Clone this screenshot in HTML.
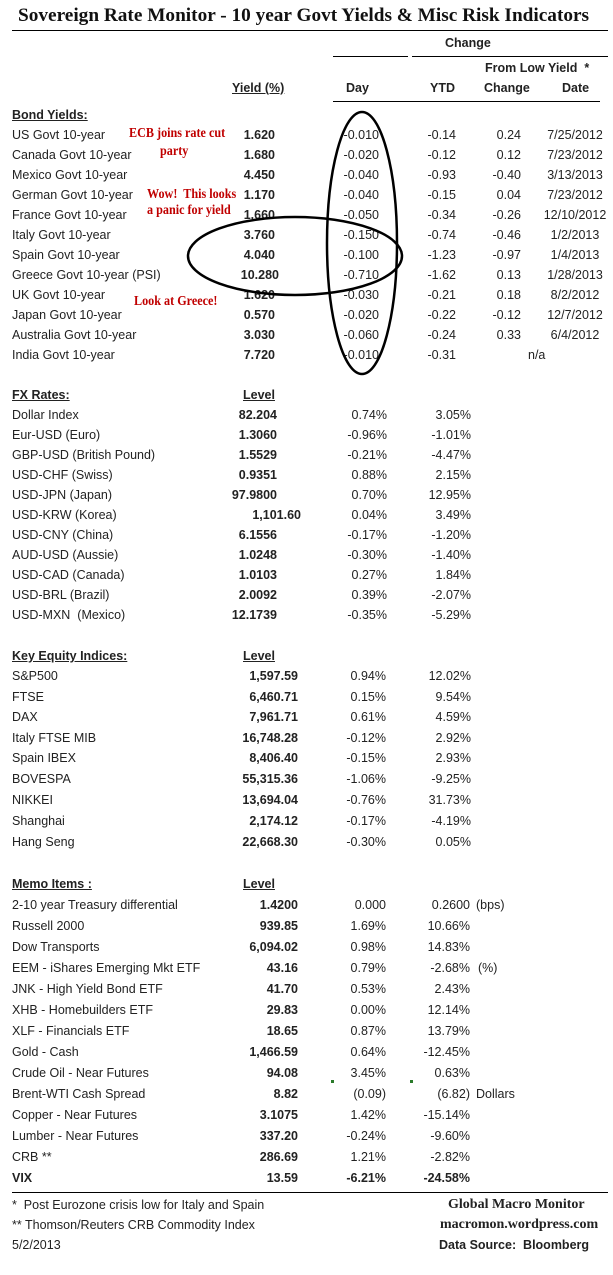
<!DOCTYPE html>
<html><head><meta charset="utf-8"><style>
*{margin:0;padding:0}
body{width:613px;height:1275px;background:#fff;position:relative;overflow:hidden;font-family:"Liberation Sans",sans-serif;font-size:12.5px;color:#222}
div{position:absolute;white-space:nowrap;line-height:16px}
.b{font-weight:bold}
.u{text-decoration:underline;font-weight:bold}
.ln{height:0;border-top:1.5px solid #000}
.red{color:#c00000;font-family:"Liberation Serif",serif;font-weight:bold;font-size:13.5px;transform:scaleX(0.9);transform-origin:left}
.ser{font-family:"Liberation Serif",serif;font-weight:bold}
</style></head><body>
<div class="ser" style="left:18px;top:6px;font-size:19.3px;line-height:20px;color:#111">Sovereign Rate Monitor - 10 year Govt Yields &amp; Misc Risk Indicators</div>
<div class="ln" style="left:12px;top:30px;width:596px"></div>
<div class="b" style="left:445px;top:35px">Change</div>
<div class="ln" style="left:333px;top:56px;width:75px;border-top-width:1px"></div>
<div class="ln" style="left:412px;top:56px;width:196px;border-top-width:1px"></div>
<div class="b" style="left:485px;top:60px">From Low Yield &nbsp;*</div>
<div class="u" style="left:232px;top:80px">Yield (%)</div>
<div class="b" style="left:346px;top:80px">Day</div>
<div class="b" style="left:430px;top:80px">YTD</div>
<div class="b" style="left:484px;top:80px">Change</div>
<div class="b" style="left:562px;top:80px">Date</div>
<div class="ln" style="left:333px;top:101px;width:267px;border-top-width:1px"></div>
<div class="u" style="left:12px;top:107px">Bond Yields:</div>

<div style="left:12px;top:127px">US Govt 10-year</div><div class="b" style="right:338px;top:127px">1.620</div><div style="right:234px;top:127px">-0.010</div><div style="right:157px;top:127px">-0.14</div><div style="right:92px;top:127px">0.24</div><div style="left:535px;width:80px;text-align:center;top:127px">7/25/2012</div>
<div style="left:12px;top:147px">Canada Govt 10-year</div><div class="b" style="right:338px;top:147px">1.680</div><div style="right:234px;top:147px">-0.020</div><div style="right:157px;top:147px">-0.12</div><div style="right:92px;top:147px">0.12</div><div style="left:535px;width:80px;text-align:center;top:147px">7/23/2012</div>
<div style="left:12px;top:167px">Mexico Govt 10-year</div><div class="b" style="right:338px;top:167px">4.450</div><div style="right:234px;top:167px">-0.040</div><div style="right:157px;top:167px">-0.93</div><div style="right:92px;top:167px">-0.40</div><div style="left:535px;width:80px;text-align:center;top:167px">3/13/2013</div>
<div style="left:12px;top:187px">German Govt 10-year</div><div class="b" style="right:338px;top:187px">1.170</div><div style="right:234px;top:187px">-0.040</div><div style="right:157px;top:187px">-0.15</div><div style="right:92px;top:187px">0.04</div><div style="left:535px;width:80px;text-align:center;top:187px">7/23/2012</div>
<div style="left:12px;top:207px">France Govt 10-year</div><div class="b" style="right:338px;top:207px">1.660</div><div style="right:234px;top:207px">-0.050</div><div style="right:157px;top:207px">-0.34</div><div style="right:92px;top:207px">-0.26</div><div style="left:535px;width:80px;text-align:center;top:207px">12/10/2012</div>
<div style="left:12px;top:227px">Italy Govt 10-year</div><div class="b" style="right:338px;top:227px">3.760</div><div style="right:234px;top:227px">-0.150</div><div style="right:157px;top:227px">-0.74</div><div style="right:92px;top:227px">-0.46</div><div style="left:535px;width:80px;text-align:center;top:227px">1/2/2013</div>
<div style="left:12px;top:247px">Spain Govt 10-year</div><div class="b" style="right:338px;top:247px">4.040</div><div style="right:234px;top:247px">-0.100</div><div style="right:157px;top:247px">-1.23</div><div style="right:92px;top:247px">-0.97</div><div style="left:535px;width:80px;text-align:center;top:247px">1/4/2013</div>
<div style="left:12px;top:267px">Greece Govt 10-year (PSI)</div><div class="b" style="right:334px;top:267px">10.280</div><div style="right:234px;top:267px">-0.710</div><div style="right:157px;top:267px">-1.62</div><div style="right:92px;top:267px">0.13</div><div style="left:535px;width:80px;text-align:center;top:267px">1/28/2013</div>
<div style="left:12px;top:287px">UK Govt 10-year</div><div class="b" style="right:338px;top:287px">1.620</div><div style="right:234px;top:287px">-0.030</div><div style="right:157px;top:287px">-0.21</div><div style="right:92px;top:287px">0.18</div><div style="left:535px;width:80px;text-align:center;top:287px">8/2/2012</div>
<div style="left:12px;top:307px">Japan Govt 10-year</div><div class="b" style="right:338px;top:307px">0.570</div><div style="right:234px;top:307px">-0.020</div><div style="right:157px;top:307px">-0.22</div><div style="right:92px;top:307px">-0.12</div><div style="left:535px;width:80px;text-align:center;top:307px">12/7/2012</div>
<div style="left:12px;top:327px">Australia Govt 10-year</div><div class="b" style="right:338px;top:327px">3.030</div><div style="right:234px;top:327px">-0.060</div><div style="right:157px;top:327px">-0.24</div><div style="right:92px;top:327px">0.33</div><div style="left:535px;width:80px;text-align:center;top:327px">6/4/2012</div>
<div style="left:12px;top:347px">India Govt 10-year</div><div class="b" style="right:338px;top:347px">7.720</div><div style="right:234px;top:347px">-0.010</div><div style="right:157px;top:347px">-0.31</div><div style="left:528px;top:347px">n/a</div>

<div class="red" style="left:129px;top:125px">ECB joins rate cut</div>
<div class="red" style="left:160px;top:143px">party</div>
<div class="red" style="left:147px;top:186px">Wow!&nbsp; This looks</div>
<div class="red" style="left:147px;top:202px">a panic for yield</div>
<div class="red" style="left:134px;top:293px">Look at Greece!</div>

<svg style="position:absolute;left:0;top:0" width="613" height="400">
<ellipse cx="362" cy="243" rx="35" ry="131" fill="none" stroke="#000" stroke-width="2.5"/>
<ellipse cx="295" cy="256" rx="107" ry="39" fill="none" stroke="#000" stroke-width="2.5"/>
</svg>

<div class="u" style="left:12px;top:387px">FX Rates:</div><div class="u" style="left:243px;top:387px">Level</div>
<div style="left:12px;top:407px">Dollar Index</div><div class="b" style="right:336px;top:407px">82.204</div><div style="right:226px;top:407px">0.74%</div><div style="right:142px;top:407px">3.05%</div>
<div style="left:12px;top:427px">Eur-USD (Euro)</div><div class="b" style="right:336px;top:427px">1.3060</div><div style="right:226px;top:427px">-0.96%</div><div style="right:142px;top:427px">-1.01%</div>
<div style="left:12px;top:447px">GBP-USD (British Pound)</div><div class="b" style="right:336px;top:447px">1.5529</div><div style="right:226px;top:447px">-0.21%</div><div style="right:142px;top:447px">-4.47%</div>
<div style="left:12px;top:467px">USD-CHF (Swiss)</div><div class="b" style="right:336px;top:467px">0.9351</div><div style="right:226px;top:467px">0.88%</div><div style="right:142px;top:467px">2.15%</div>
<div style="left:12px;top:487px">USD-JPN (Japan)</div><div class="b" style="right:336px;top:487px">97.9800</div><div style="right:226px;top:487px">0.70%</div><div style="right:142px;top:487px">12.95%</div>
<div style="left:12px;top:507px">USD-KRW (Korea)</div><div class="b" style="right:312px;top:507px">1,101.60</div><div style="right:226px;top:507px">0.04%</div><div style="right:142px;top:507px">3.49%</div>
<div style="left:12px;top:527px">USD-CNY (China)</div><div class="b" style="right:336px;top:527px">6.1556</div><div style="right:226px;top:527px">-0.17%</div><div style="right:142px;top:527px">-1.20%</div>
<div style="left:12px;top:547px">AUD-USD (Aussie)</div><div class="b" style="right:336px;top:547px">1.0248</div><div style="right:226px;top:547px">-0.30%</div><div style="right:142px;top:547px">-1.40%</div>
<div style="left:12px;top:567px">USD-CAD (Canada)</div><div class="b" style="right:336px;top:567px">1.0103</div><div style="right:226px;top:567px">0.27%</div><div style="right:142px;top:567px">1.84%</div>
<div style="left:12px;top:587px">USD-BRL (Brazil)</div><div class="b" style="right:336px;top:587px">2.0092</div><div style="right:226px;top:587px">0.39%</div><div style="right:142px;top:587px">-2.07%</div>
<div style="left:12px;top:607px">USD-MXN&nbsp; (Mexico)</div><div class="b" style="right:336px;top:607px">12.1739</div><div style="right:226px;top:607px">-0.35%</div><div style="right:142px;top:607px">-5.29%</div>

<div class="u" style="left:12px;top:648px">Key Equity Indices:</div><div class="u" style="left:243px;top:648px">Level</div>
<div style="left:12px;top:668px">S&amp;P500</div><div class="b" style="right:315px;top:668px">1,597.59</div><div style="right:227px;top:668px">0.94%</div><div style="right:142px;top:668px">12.02%</div>
<div style="left:12px;top:689px">FTSE</div><div class="b" style="right:315px;top:689px">6,460.71</div><div style="right:227px;top:689px">0.15%</div><div style="right:142px;top:689px">9.54%</div>
<div style="left:12px;top:709px">DAX</div><div class="b" style="right:315px;top:709px">7,961.71</div><div style="right:227px;top:709px">0.61%</div><div style="right:142px;top:709px">4.59%</div>
<div style="left:12px;top:730px">Italy FTSE MIB</div><div class="b" style="right:315px;top:730px">16,748.28</div><div style="right:227px;top:730px">-0.12%</div><div style="right:142px;top:730px">2.92%</div>
<div style="left:12px;top:750px">Spain IBEX</div><div class="b" style="right:315px;top:750px">8,406.40</div><div style="right:227px;top:750px">-0.15%</div><div style="right:142px;top:750px">2.93%</div>
<div style="left:12px;top:771px">BOVESPA</div><div class="b" style="right:315px;top:771px">55,315.36</div><div style="right:227px;top:771px">-1.06%</div><div style="right:142px;top:771px">-9.25%</div>
<div style="left:12px;top:792px">NIKKEI</div><div class="b" style="right:315px;top:792px">13,694.04</div><div style="right:227px;top:792px">-0.76%</div><div style="right:142px;top:792px">31.73%</div>
<div style="left:12px;top:813px">Shanghai</div><div class="b" style="right:315px;top:813px">2,174.12</div><div style="right:227px;top:813px">-0.17%</div><div style="right:142px;top:813px">-4.19%</div>
<div style="left:12px;top:834px">Hang Seng</div><div class="b" style="right:315px;top:834px">22,668.30</div><div style="right:227px;top:834px">-0.30%</div><div style="right:142px;top:834px">0.05%</div>

<div class="u" style="left:12px;top:876px">Memo Items :</div><div class="u" style="left:243px;top:876px">Level</div>
<div style="left:12px;top:897px">2-10 year Treasury differential</div><div class="b" style="right:315px;top:897px">1.4200</div><div style="right:227px;top:897px">0.000</div><div style="right:143px;top:897px">0.2600</div><div style="left:476px;top:897px">(bps)</div>
<div style="left:12px;top:918px">Russell 2000</div><div class="b" style="right:315px;top:918px">939.85</div><div style="right:227px;top:918px">1.69%</div><div style="right:143px;top:918px">10.66%</div>
<div style="left:12px;top:939px">Dow Transports</div><div class="b" style="right:315px;top:939px">6,094.02</div><div style="right:227px;top:939px">0.98%</div><div style="right:143px;top:939px">14.83%</div>
<div style="left:12px;top:960px">EEM - iShares Emerging Mkt ETF</div><div class="b" style="right:315px;top:960px">43.16</div><div style="right:227px;top:960px">0.79%</div><div style="right:143px;top:960px">-2.68%</div><div style="left:478px;top:960px">(%)</div>
<div style="left:12px;top:981px">JNK - High Yield Bond ETF</div><div class="b" style="right:315px;top:981px">41.70</div><div style="right:227px;top:981px">0.53%</div><div style="right:143px;top:981px">2.43%</div>
<div style="left:12px;top:1002px">XHB - Homebuilders ETF</div><div class="b" style="right:315px;top:1002px">29.83</div><div style="right:227px;top:1002px">0.00%</div><div style="right:143px;top:1002px">12.14%</div>
<div style="left:12px;top:1023px">XLF - Financials ETF</div><div class="b" style="right:315px;top:1023px">18.65</div><div style="right:227px;top:1023px">0.87%</div><div style="right:143px;top:1023px">13.79%</div>
<div style="left:12px;top:1044px">Gold - Cash</div><div class="b" style="right:315px;top:1044px">1,466.59</div><div style="right:227px;top:1044px">0.64%</div><div style="right:143px;top:1044px">-12.45%</div>
<div style="left:12px;top:1065px">Crude Oil - Near Futures</div><div class="b" style="right:315px;top:1065px">94.08</div><div style="right:227px;top:1065px">3.45%</div><div style="right:143px;top:1065px">0.63%</div>
<div style="left:12px;top:1086px">Brent-WTI Cash Spread</div><div class="b" style="right:315px;top:1086px">8.82</div><div style="right:227px;top:1086px">(0.09)</div><div style="right:143px;top:1086px">(6.82)</div><div style="left:476px;top:1086px">Dollars</div>
<div style="left:12px;top:1107px">Copper - Near Futures</div><div class="b" style="right:315px;top:1107px">3.1075</div><div style="right:227px;top:1107px">1.42%</div><div style="right:143px;top:1107px">-15.14%</div>
<div style="left:12px;top:1128px">Lumber - Near Futures</div><div class="b" style="right:315px;top:1128px">337.20</div><div style="right:227px;top:1128px">-0.24%</div><div style="right:143px;top:1128px">-9.60%</div>
<div style="left:12px;top:1149px">CRB **</div><div class="b" style="right:315px;top:1149px">286.69</div><div style="right:227px;top:1149px">1.21%</div><div style="right:143px;top:1149px">-2.82%</div>
<div class="b" style="left:12px;top:1170px">VIX</div><div class="b" style="right:315px;top:1170px">13.59</div><div class="b" style="right:227px;top:1170px">-6.21%</div><div class="b" style="right:143px;top:1170px">-24.58%</div>
<div style="left:331px;top:1080px;width:3px;height:3px;background:#2a7a2a"></div>
<div style="left:410px;top:1080px;width:3px;height:3px;background:#2a7a2a"></div>

<div class="ln" style="left:12px;top:1192px;width:596px"></div>
<div style="left:12px;top:1197px">*&nbsp; Post Eurozone crisis low for Italy and Spain</div>
<div style="left:12px;top:1217px">** Thomson/Reuters CRB Commodity Index</div>
<div style="left:12px;top:1237px">5/2/2013</div>
<div class="ser" style="left:448px;top:1197px;font-size:14px">Global Macro Monitor</div>
<div class="ser" style="left:440px;top:1217px;font-size:14px">macromon.wordpress.com</div>
<div class="b" style="left:439px;top:1237px">Data Source:&nbsp; Bloomberg</div>
</body></html>
